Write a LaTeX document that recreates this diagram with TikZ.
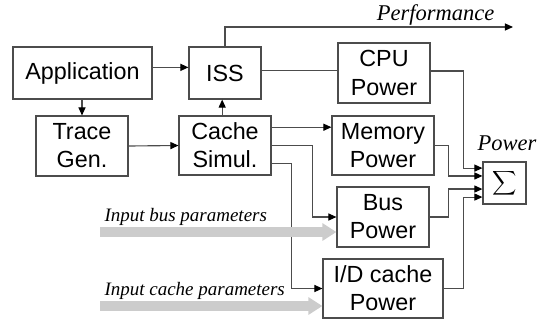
\documentclass[tikz,border=0pt]{standalone}
\usepackage{amsmath}
\usepackage{fontspec}
\setmainfont{Liberation Serif}
\setsansfont{Liberation Sans}
\usetikzlibrary{arrows.meta}

\begin{document}
\begin{tikzpicture}[x=0.025cm, y=-0.025cm, line width=0.8pt,
		every node/.style={draw=black!70, inner sep=0pt, align=center, font=\sffamily\fontsize{16.6}{20}\selectfont},
		lbl/.style={draw=none, font=\itshape\fontsize{16}{19}\selectfont},
		inlbl/.style={draw=none, font=\itshape\fontsize{13.5}{16}\selectfont},
		wire/.style={draw=black!70},
		>={Triangle[length=5.7pt, width=5pt, color=black]},
		feed/.style={draw=black!20, line width=7pt, -{Triangle[length=10pt, width=12pt, color=black!20]}}]
			\useasboundingbox (0,0) rectangle (548,324);
			
			% top row
			\node (App) [minimum width=139*0.025cm, minimum height=52*0.025cm] at (82.5,73) {Application};
			\node (ISS) [minimum width=72*0.025cm, minimum height=52*0.025cm] at (225,73) {ISS};
			\node (CPU) [minimum width=92*0.025cm, minimum height=60*0.025cm] at (384,73) {CPU\\Power};
			
			% middle row
			\node (Trace) [minimum width=92*0.025cm, minimum height=60*0.025cm] at (82,146) {Trace\\Gen.};
			\node (Cache) [minimum width=92*0.025cm, minimum height=59*0.025cm] at (225,145.5) {Cache\\Simul.};
			\node (Mem) [minimum width=102*0.025cm, minimum height=59*0.025cm] at (383,145.5) {Memory\\Power};
			\node (Bus) [minimum width=92*0.025cm, minimum height=60*0.025cm] at (383,217) {Bus\\Power};
			\node (IDC) [minimum width=120*0.025cm, minimum height=59*0.025cm] at (383,288.5) {I/D cache\\Power};
			\node (Sum) [minimum width=43*0.025cm, minimum height=42*0.025cm, font=\fontsize{12}{14}\selectfont] at (504.5,183) {$\displaystyle\sum$};
			
			% labels
			\node (Perf) [lbl, anchor=base east] at (495,20) {Performance};
			\node (Pow) [lbl, anchor=base west] at (477,150) {Power};
			\node (InBus) [inlbl, anchor=base west] at (104,221) {Input bus parameters};
			\node (InCache) [inlbl, anchor=base west] at (104,295) {Input cache parameters};
			\coordinate (PerfEnd) at (513,27);
			\coordinate (BusIn) at (100,232);
			\coordinate (CacheIn) at (100,306);
			
			% flow
			\draw[wire, ->] ([yshift=4pt]App.east) -- ([yshift=4pt]ISS.west);
			\draw[wire, ->] (Trace.north |- App.south) -- (Trace.north);
			\draw[wire, ->] (Trace.east) -- (Cache.west);
			\draw[wire, ->] ([xshift=-2pt]Cache.north) -- ([xshift=-2pt]ISS.south);
			\draw[wire, ->] (ISS.north) |- (PerfEnd);
			\draw[wire] ([yshift=2pt]ISS.east) -- ([yshift=2pt]CPU.west);
			\draw[wire, ->] ([yshift=13pt]Cache.east) -- ([yshift=13pt]Mem.west);
			\draw[wire, ->] (Cache.east) -- ++(41,0) |- (Bus.west);
			\draw[wire, ->] ([yshift=-13pt]Cache.east) -- ++(20,0) |- (IDC.west);
			
			% sum
			\draw[wire, ->] ([yshift=1.4pt]CPU.east) -- ++(33,0) |- ([yshift=10.6pt]Sum.west);
			\draw[wire, ->] (Mem.east) -- ++(14,0) |- ([yshift=5pt]Sum.west);
			\draw[wire, ->] (Bus.east) -- ++(19,0) |- ([yshift=-4.3pt]Sum.west);
			\draw[wire, ->] (IDC.east) -- ++(20,0) |- ([yshift=-10pt]Sum.west);
			
			% parameters
			\draw[feed] (BusIn) -- (BusIn -| Bus.west);
			\draw[feed] (CacheIn) -- (CacheIn -| IDC.west);
		\end{tikzpicture}
\end{document}
